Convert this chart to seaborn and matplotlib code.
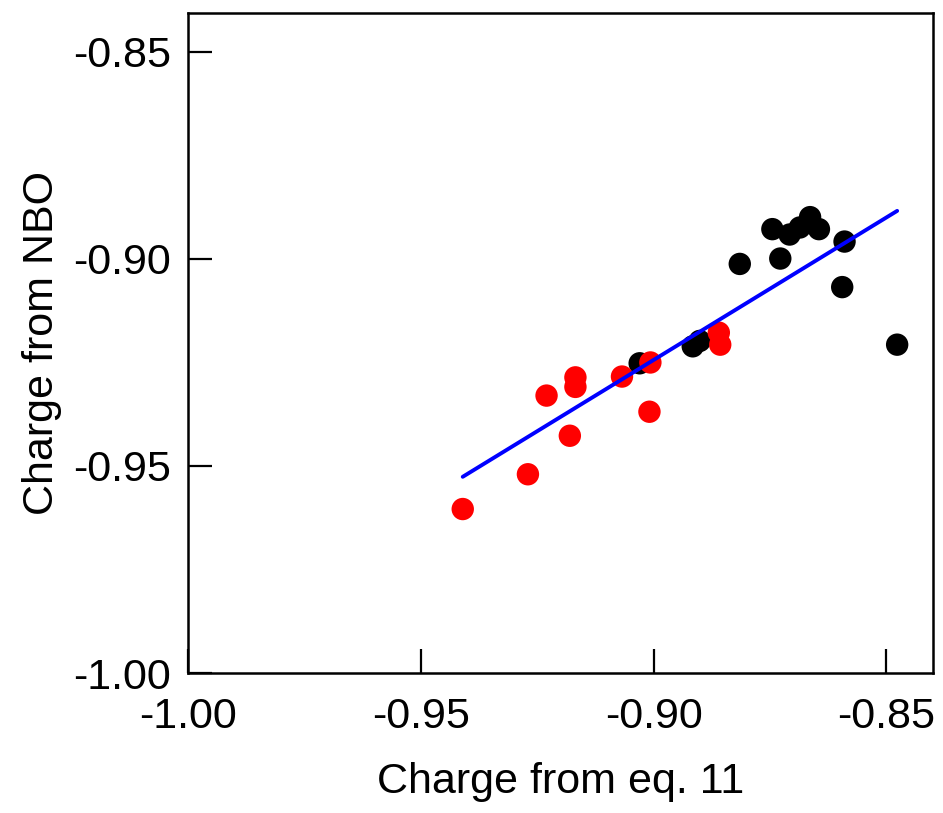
import matplotlib
matplotlib.use("Agg")
import matplotlib.pyplot as plt
import numpy as np
import pandas as pd
import seaborn as sns

# charges
red_eq11 = [-0.941, -0.927, -0.923, -0.9168, -0.9168, -0.918, -0.9068,
            -0.9009, -0.9007, -0.886, -0.8857]
red_nbo = [-0.9604, -0.952, -0.933, -0.9286, -0.9309, -0.9427, -0.9284,
           -0.9369, -0.925, -0.9178, -0.9207]
black_eq11 = [-0.903, -0.8916, -0.8901, -0.8815, -0.8745, -0.8728, -0.8708,
              -0.8686, -0.8664, -0.8645, -0.859, -0.8595, -0.8477]
black_nbo = [-0.9252, -0.9211, -0.9198, -0.9012, -0.8928, -0.8999, -0.8941,
             -0.8924, -0.8899, -0.8928, -0.8958, -0.9068, -0.9207]
ticks = [-1.00, -0.95, -0.90, -0.85]

df = pd.DataFrame({
    "eq11": black_eq11 + red_eq11,
    "nbo": black_nbo + red_nbo,
    "group": ["black"] * len(black_eq11) + ["red"] * len(red_eq11),
})

sns.set_style("ticks")
plt.rcParams["font.family"] = ["Liberation Sans", "DejaVu Sans"]
plt.rcParams["text.color"] = "black"
plt.rcParams["axes.labelcolor"] = "black"
plt.rcParams["xtick.color"] = "black"
plt.rcParams["ytick.color"] = "black"

fig = plt.figure(figsize=(9.43, 8.13), dpi=100)
ax = fig.add_axes([0.1994, 0.1722, 0.79, 0.8118])

sns.scatterplot(data=df, x="eq11", y="nbo", hue="group",
                palette={"black": "black", "red": "#ff0000"},
                s=260, linewidth=0, legend=False, ax=ax, zorder=2)
# least-squares line through all points
sns.regplot(data=df, x="eq11", y="nbo", scatter=False, ci=None, truncate=True,
            color="#0000ff", line_kws={"lw": 2.8, "zorder": 3}, ax=ax)

ax.set_xlim(-1.0, -0.84)
ax.set_ylim(-1.0, -0.8406)
ax.set_xticks(ticks)
ax.set_yticks(ticks)
ax.set_xticklabels([f"{t:.2f}" for t in ticks])
ax.set_yticklabels([f"{t:.2f}" for t in ticks])
ax.tick_params(axis="both", direction="in", length=17, width=1.6,
               labelsize=31, top=False, right=False, colors="black")
ax.tick_params(axis="x", pad=17)
ax.tick_params(axis="y", pad=12)
for sp in ax.spines.values():
    sp.set_linewidth(1.8)
    sp.set_color("black")

ax.set_xlabel("Charge from eq. 11", fontsize=31, labelpad=18)
ax.set_ylabel("Charge from NBO", fontsize=31, labelpad=8)

fig.savefig("out.png", dpi=100)
